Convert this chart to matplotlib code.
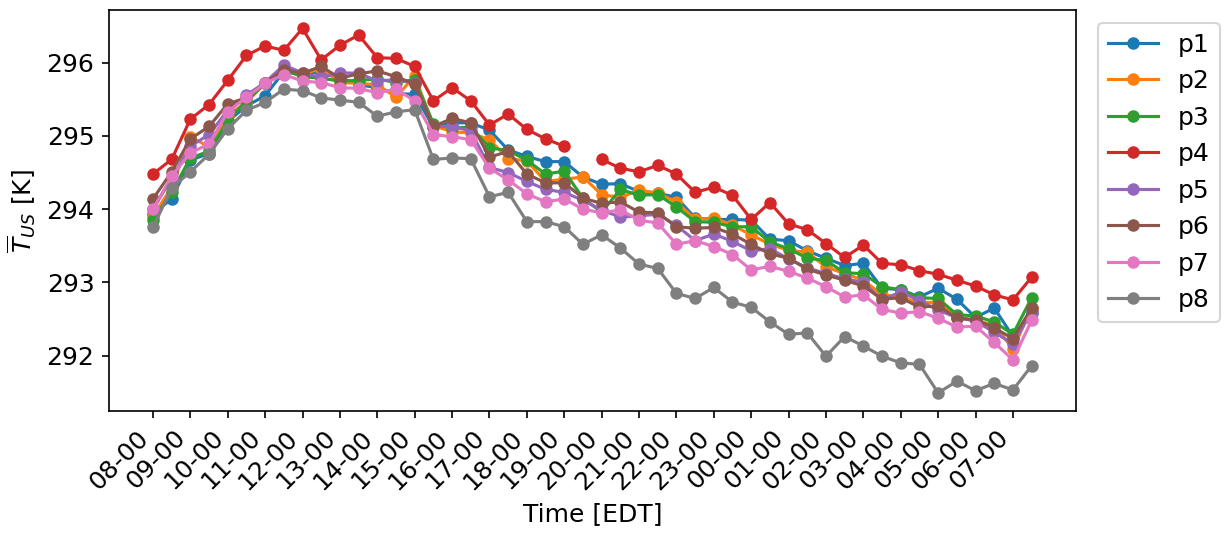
import numpy as np
import matplotlib.pyplot as plt

plt.rcParams['font.size'] = 12

# Ore (EDT), un'etichetta ogni ora, dati ogni mezz'ora
hour_labels = ['08-00', '09-00', '10-00', '11-00', '12-00', '13-00', '14-00', '15-00',
               '16-00', '17-00', '18-00', '19-00', '20-00', '21-00', '22-00', '23-00',
               '00-00', '01-00', '02-00', '03-00', '04-00', '05-00', '06-00', '07-00']

# Temperatura media per sonda [K]
p1 = [293.94, 294.14, 294.67, 294.76, 295.20, 295.41, 295.55, 295.88, 295.84, 295.88,
      295.80, 295.70, 295.66, 295.58, 295.57, 295.12, 295.18, 295.18, 295.08, 294.81,
      294.72, 294.65, 294.65, 294.44, 294.34, 294.35, 294.24, 294.22, 294.16, 293.88,
      293.86, 293.86, 293.85, 293.59, 293.57, 293.43, 293.33, 293.23, 293.26, 292.92,
      292.90, 292.80, 292.92, 292.77, 292.52, 292.65, 292.26, 292.58]
p2 = [293.90, 294.30, 294.99, 294.85, 295.28, 295.46, 295.72, 295.91, 295.85, 295.92,
      295.73, 295.72, 295.70, 295.53, 295.82, 295.14, 295.06, 295.04, 294.95, 294.69,
      294.66, 294.38, 294.41, 294.44, 294.20, 294.16, 294.26, 294.22, 294.10, 293.86,
      293.88, 293.78, 293.65, 293.52, 293.44, 293.41, 293.21, 293.12, 293.03, 292.83,
      292.80, 292.72, 292.73, 292.53, 292.48, 292.42, 292.09, 292.65]
p3 = [293.85, 294.23, 294.70, 294.79, 295.21, 295.48, 295.72, 295.90, 295.81, 295.79,
      295.75, 295.76, 295.78, 295.73, 295.77, 295.17, 295.11, 295.12, 294.84, 294.80,
      294.67, 294.48, 294.52, 294.15, 293.96, 294.27, 294.19, 294.20, 294.03, 293.83,
      293.82, 293.76, 293.76, 293.55, 293.46, 293.33, 293.30, 293.13, 293.12, 292.94,
      292.90, 292.79, 292.78, 292.56, 292.54, 292.46, 292.29, 292.79]
p4 = [294.48, 294.68, 295.23, 295.43, 295.76, 296.10, 296.23, 296.17, 296.47, 296.04,
      296.24, 296.38, 296.07, 296.06, 295.95, 295.48, 295.66, 295.48, 295.15, 295.30,
      295.09, 294.96, 294.86, np.nan, 294.68, 294.56, 294.51, 294.60, 294.48, 294.23,
      294.30, 294.19, 293.86, 294.09, 293.80, 293.72, 293.53, 293.34, 293.51, 293.26,
      293.24, 293.16, 293.11, 293.03, 292.95, 292.83, 292.76, 293.07]
p5 = [294.00, 294.42, 294.86, 295.02, 295.35, 295.56, 295.73, 295.97, 295.86, 295.80,
      295.86, 295.86, 295.75, 295.77, 295.72, 295.13, 295.13, 295.07, 294.57, 294.50,
      294.38, 294.27, 294.23, 294.12, 293.99, 293.89, 293.91, 293.93, 293.78, 293.57,
      293.66, 293.56, 293.43, 293.46, 293.32, 293.20, 293.12, 293.05, 293.00, 292.76,
      292.87, 292.75, 292.62, 292.52, 292.47, 292.32, 292.16, 292.60]
p6 = [294.14, 294.51, 294.96, 295.13, 295.44, 295.52, 295.73, 295.90, 295.86, 295.95,
      295.79, 295.85, 295.89, 295.81, 295.71, 295.13, 295.24, 295.18, 294.71, 294.79,
      294.48, 294.36, 294.36, 294.15, 294.08, 294.10, 293.96, 293.95, 293.76, 293.74,
      293.75, 293.66, 293.52, 293.39, 293.33, 293.18, 293.10, 293.03, 292.95, 292.77,
      292.79, 292.66, 292.68, 292.51, 292.49, 292.38, 292.23, 292.65]
p7 = [294.00, 294.45, 294.77, 294.89, 295.33, 295.53, 295.72, 295.84, 295.75, 295.73,
      295.66, 295.65, 295.59, 295.64, 295.48, 295.02, 294.99, 294.95, 294.56, 294.40,
      294.21, 294.10, 294.14, 294.00, 293.95, 293.99, 293.85, 293.81, 293.52, 293.57,
      293.49, 293.38, 293.17, 293.22, 293.15, 293.06, 292.94, 292.80, 292.83, 292.63,
      292.58, 292.60, 292.51, 292.39, 292.40, 292.18, 291.94, 292.48]
p8 = [293.75, 294.29, 294.51, 294.75, 295.10, 295.35, 295.46, 295.64, 295.62, 295.52,
      295.49, 295.46, 295.27, 295.33, 295.36, 294.68, 294.70, 294.69, 294.17, 294.23,
      293.83, 293.83, 293.76, 293.52, 293.65, 293.47, 293.25, 293.19, 292.85, 292.78,
      292.93, 292.73, 292.66, 292.46, 292.29, 292.31, 291.99, 292.26, 292.13, 291.99,
      291.90, 291.88, 291.49, 291.65, 291.52, 291.62, 291.53, 291.86]

series = {'p1': p1, 'p2': p2, 'p3': p3, 'p4': p4,
          'p5': p5, 'p6': p6, 'p7': p7, 'p8': p8}

x = np.arange(len(p1))  # indice mezz'ora

fig = plt.figure(figsize=(1225 / 150, 536 / 150), dpi=150)
ax = fig.add_axes([0.089, 0.233, 0.789, 0.748])

for name, vals in series.items():
    ax.plot(x, vals, marker='o', ms=5, lw=1.5, label=name)

ax.set_xticks(x[::2])
ax.set_xticklabels(hour_labels, rotation=45, ha='right')
ax.set_xlabel('Time [EDT]')
ax.set_ylabel(r'$\overline{T}_{US}$ [K]')
ax.legend(loc='upper left', bbox_to_anchor=(1.01, 1))

fig.savefig('out.png', dpi=150)
